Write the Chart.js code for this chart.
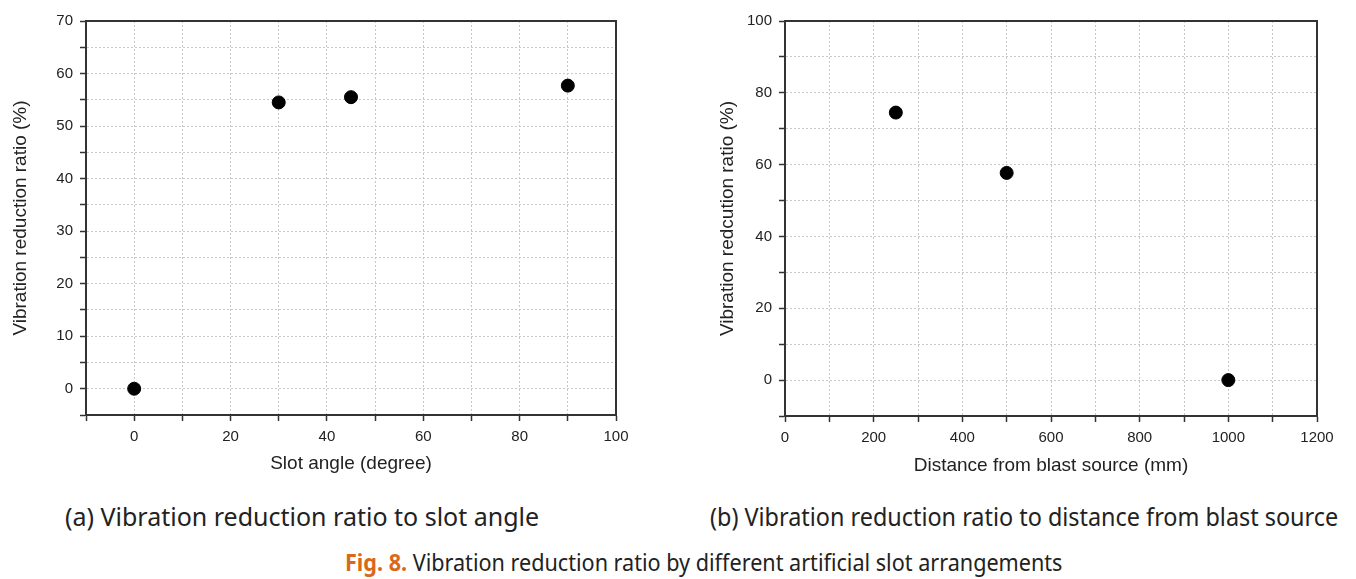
<!DOCTYPE html>
<html>
<head>
<meta charset="utf-8">
<script src="https://cdn.jsdelivr.net/npm/chart.js@4.4.1/dist/chart.umd.min.js"></script>
<style>
  body { margin: 0; background: #fff; width: 1356px; height: 579px; position: relative; overflow: hidden; }
  #c1 { position: absolute; left: 0; top: 0; }
  #c2 { position: absolute; left: 700px; top: 0; }
  .cap { position: absolute; font-family: "Noto Sans", sans-serif; color: #222; white-space: nowrap; transform-origin: 0 50%; line-height: 34px; }
  #capA { left: 65px; top: 499px; font-size: 25px; }
  #capB { left: 710px; top: 499px; font-size: 25px; transform: scaleX(0.936); }
  #fig { left: 345px; top: 545px; font-size: 24px; transform: scaleX(0.9); }
  #fig b { color: #d9681b; }
</style>
</head>
<body>
<canvas id="c1" width="660" height="490"></canvas>
<canvas id="c2" width="656" height="490"></canvas>
<div class="cap" id="capA">(a) Vibration reduction ratio to slot angle</div>
<div class="cap" id="capB">(b) Vibration reduction ratio to distance from blast source</div>
<div class="cap" id="fig"><b>Fig. 8.</b> Vibration reduction ratio by different artificial slot arrangements</div>
<script>
// chart (a): slot angle
var angleX = [0, 30, 45, 90];
var angleY = [0, 54.5, 55.5, 57.7];
// chart (b): distance from blast source
var distX = [250, 500, 1000];
var distY = [74.5, 57.7, 0];

var tickFont = { family: 'Liberation Sans', size: 15 };
var titleFont = { family: 'Liberation Sans', size: 19 };

// box around the plot area (top and right edges)
var boxPlugin = {
  id: 'box',
  afterDraw: function(chart) {
    var a = chart.chartArea, ctx = chart.ctx;
    ctx.save();
    ctx.strokeStyle = '#333';
    ctx.lineWidth = 2;
    ctx.strokeRect(a.left, a.top, a.right - a.left, a.bottom - a.top);
    ctx.restore();
  }
};

function makeAxis(min, max, step, labelEvery, title, titlePad, fitSize) {
  return {
    type: 'linear',
    min: min,
    max: max,
    grid: {
      color: '#c8c8c8',
      lineWidth: 1,
      tickColor: '#333',
      tickLength: 6,
      tickWidth: 1.5
    },
    border: { color: '#333', width: 2, dash: [2, 2] },
    ticks: {
      stepSize: step,
      autoSkip: false,
      maxRotation: 0,
      padding: 7,
      color: '#222',
      font: tickFont,
      callback: function(v) { return v % labelEvery === 0 ? v : ''; }
    },
    title: { display: true, text: title, color: '#222', font: titleFont, padding: titlePad },
    afterFit: function(scale) {
      if (scale.isHorizontal()) scale.height = fitSize; else scale.width = fitSize;
    }
  };
}

function makeChart(id, xs, ys, xAxis, yAxis, padRight) {
  var pts = xs.map(function(x, i) { return { x: x, y: ys[i] }; });
  return new Chart(document.getElementById(id), {
    type: 'scatter',
    data: {
      datasets: [{
        data: pts,
        backgroundColor: '#000',
        borderColor: '#000',
        pointRadius: 6.5,
        pointHoverRadius: 6.5
      }]
    },
    options: {
      responsive: false,
      animation: false,
      layout: { padding: { top: 21, right: padRight, left: 0, bottom: 0 } },
      plugins: { legend: { display: false }, tooltip: { enabled: false } },
      scales: { x: xAxis, y: yAxis }
    },
    plugins: [boxPlugin]
  });
}

makeChart('c1', angleX, angleY,
  makeAxis(-10, 100, 10, 20, 'Slot angle (degree)', { top: 4, bottom: 15 }, 75),
  makeAxis(-5, 70, 5, 10, 'Vibration reduction ratio (%)', { top: 9, bottom: 4 }, 86),
  44);

makeChart('c2', distX, distY,
  makeAxis(0, 1200, 100, 200, 'Distance from blast source (mm)', { top: 4, bottom: 13 }, 74),
  makeAxis(-10, 100, 10, 20, 'Vibration redcution ratio (%)', { top: 16, bottom: 4 }, 85),
  39);
</script>
</body>
</html>
